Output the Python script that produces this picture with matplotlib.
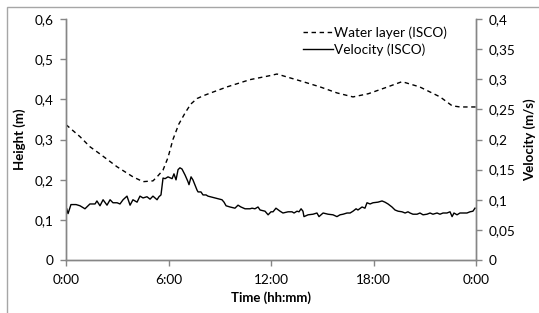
import matplotlib
matplotlib.use("Agg")
import matplotlib.pyplot as plt
from matplotlib.lines import Line2D
from matplotlib.patches import Rectangle

# ---- data -------------------------------------------------------------
water_t = [0.0, 0.82, 1.40, 1.99, 2.99, 3.92, 4.51, 5.09, 5.33, 5.68, 5.97, 6.26,
           6.6, 6.97, 7.3, 7.67, 8.1, 8.6, 9.43, 10.77, 11.94, 12.35, 13.87, 14.87,
           15.86, 16.80, 17.7, 18.7, 19.67, 20.7, 21.9, 22.6, 23.06, 24.0]
water_h = [0.337, 0.307, 0.282, 0.264, 0.232, 0.207, 0.195, 0.197, 0.207, 0.224,
           0.255, 0.300, 0.338, 0.366, 0.388, 0.402, 0.410, 0.418, 0.431, 0.449,
           0.459, 0.463, 0.444, 0.431, 0.416, 0.406, 0.414, 0.429, 0.444, 0.431,
           0.406, 0.384, 0.381, 0.381]

vel_t = [0.04, 0.12, 0.29, 0.59, 0.82, 1.11, 1.40, 1.70, 1.81, 1.99, 2.17, 2.40, 2.58,
         2.75, 2.99, 3.16, 3.34, 3.57, 3.75, 3.92, 4.16, 4.33, 4.51, 4.74, 4.92, 5.09,
         5.33, 5.44, 5.56, 5.68, 5.80, 5.97, 6.21, 6.32, 6.44, 6.56, 6.67, 6.79, 6.97,
         7.14, 7.20, 7.32, 7.43, 7.67, 7.73, 7.90, 8.02, 8.20, 8.31, 8.72, 9.13, 9.25,
         9.37, 9.60, 9.89, 10.07, 10.24, 10.48, 10.77, 10.89, 11.06, 11.24, 11.36,
         11.65, 11.83, 12.00, 12.12, 12.29, 12.53, 12.70, 13.00, 13.23, 13.35, 13.52,
         13.64, 13.76, 13.87, 13.93, 14.17, 14.46, 14.69, 14.81, 15.05, 15.34, 15.63,
         15.86, 16.04, 16.22, 16.45, 16.63, 16.80, 16.98, 17.09, 17.33, 17.50, 17.62,
         17.80, 17.97, 18.26, 18.50, 18.67, 18.85, 19.08, 19.26, 19.44, 19.67, 19.85,
         20.02, 20.14, 20.31, 20.55, 20.72, 20.90, 21.13, 21.31, 21.48, 21.72, 21.89,
         22.07, 22.30, 22.48, 22.60, 22.71, 22.89, 23.06, 23.24, 23.47, 23.65, 23.82,
         23.94]
vel_v = [0.085, 0.077, 0.092, 0.092, 0.090, 0.085, 0.093, 0.093, 0.098, 0.090, 0.100,
         0.091, 0.100, 0.095, 0.095, 0.093, 0.100, 0.106, 0.091, 0.100, 0.096, 0.106,
         0.103, 0.105, 0.101, 0.106, 0.100, 0.105, 0.108, 0.136, 0.135, 0.138, 0.135,
         0.143, 0.133, 0.150, 0.153, 0.151, 0.141, 0.130, 0.125, 0.138, 0.133, 0.116,
         0.113, 0.113, 0.108, 0.108, 0.106, 0.103, 0.100, 0.096, 0.090, 0.088, 0.086,
         0.091, 0.088, 0.085, 0.085, 0.086, 0.085, 0.088, 0.083, 0.081, 0.075, 0.080,
         0.080, 0.086, 0.081, 0.078, 0.080, 0.080, 0.078, 0.081, 0.080, 0.085, 0.081,
         0.072, 0.075, 0.076, 0.078, 0.072, 0.078, 0.076, 0.075, 0.072, 0.075, 0.076,
         0.078, 0.078, 0.081, 0.085, 0.083, 0.088, 0.086, 0.095, 0.093, 0.095, 0.096,
         0.098, 0.096, 0.093, 0.088, 0.083, 0.081, 0.080, 0.078, 0.080, 0.078, 0.076,
         0.076, 0.078, 0.075, 0.076, 0.078, 0.076, 0.078, 0.076, 0.078, 0.078, 0.080,
         0.072, 0.078, 0.075, 0.078, 0.078, 0.078, 0.080, 0.081, 0.086]

x_ticks = [0, 6, 12, 18, 24]
x_labels = ["0:00", "6:00", "12:00", "18:00", "0:00"]
h_ticks = [0, 0.1, 0.2, 0.3, 0.4, 0.5, 0.6]
v_ticks = [0, 0.05, 0.1, 0.15, 0.2, 0.25, 0.3, 0.35, 0.4]


def comma(v):
    s = ("%.2f" % v).rstrip("0").rstrip(".")
    return s.replace(".", ",")


plt.rcParams['font.family'] = ['Lato', 'DejaVu Sans']
W, H = 539, 313
fig = plt.figure(figsize=(W / 100, H / 100), dpi=100)
fig.patch.set_facecolor("white")

# outer chart border (only left/top visible)
fig.patches.append(Rectangle((7 / W, -0.2), 1.5, (H - 7) / H + 0.2,
                             transform=fig.transFigure, fill=False,
                             edgecolor="#a6a6a6", linewidth=1.0, clip_on=False))

ax = fig.add_axes([66 / W, (H - 260) / H, (476 - 66) / W, (260 - 19) / H])
ax2 = ax.twinx()

axis_col = "#868686"
for a in (ax, ax2):
    a.spines["top"].set_visible(False)
    for s in ("left", "right", "bottom"):
        a.spines[s].set_color(axis_col)
        a.spines[s].set_linewidth(1.0)
    a.tick_params(colors=axis_col, labelcolor="black", labelsize=9.8,
                  length=4, width=1.0, direction="out")

ax.plot(water_t, water_h, color="black", linewidth=1.0, linestyle=(0, (3.2, 2.6)))
ax2.plot(vel_t, vel_v, color="black", linewidth=1.0)

ax.set_xlim(0, 24)
ax.set_ylim(0, 0.6)
ax2.set_ylim(0, 0.4)
ax.set_xticks(x_ticks)
ax.set_xticklabels(x_labels)
ax.set_yticks(h_ticks)
ax.set_yticklabels([comma(v) for v in h_ticks])
ax2.set_yticks(v_ticks)
ax2.set_yticklabels([comma(v) for v in v_ticks])
ax.tick_params(axis="x", pad=6)
ax.tick_params(axis="y", pad=5)
ax2.tick_params(axis="y", pad=5)

ax.set_xlabel("Time (hh:mm)", fontsize=9.5, fontweight="bold", labelpad=4)
ax.set_ylabel("Height (m)", fontsize=9.5, fontweight="bold", labelpad=6)
ax2.set_ylabel("Velocity (m/s)", fontsize=9.5, fontweight="bold", labelpad=6,
               rotation=90)

handles = [Line2D([], [], color="black", linewidth=1.0, linestyle=(0, (3.2, 2.6))),
           Line2D([], [], color="black", linewidth=1.0)]
ax2.legend(handles, ["Water layer (ISCO)", "Velocity (ISCO)"], loc="upper right",
           bbox_to_anchor=(0.96, 1.02), frameon=False, fontsize=9.8,
           handlelength=2.2, handletextpad=0.1, labelspacing=0.3)

fig.savefig("out.png", dpi=100)
